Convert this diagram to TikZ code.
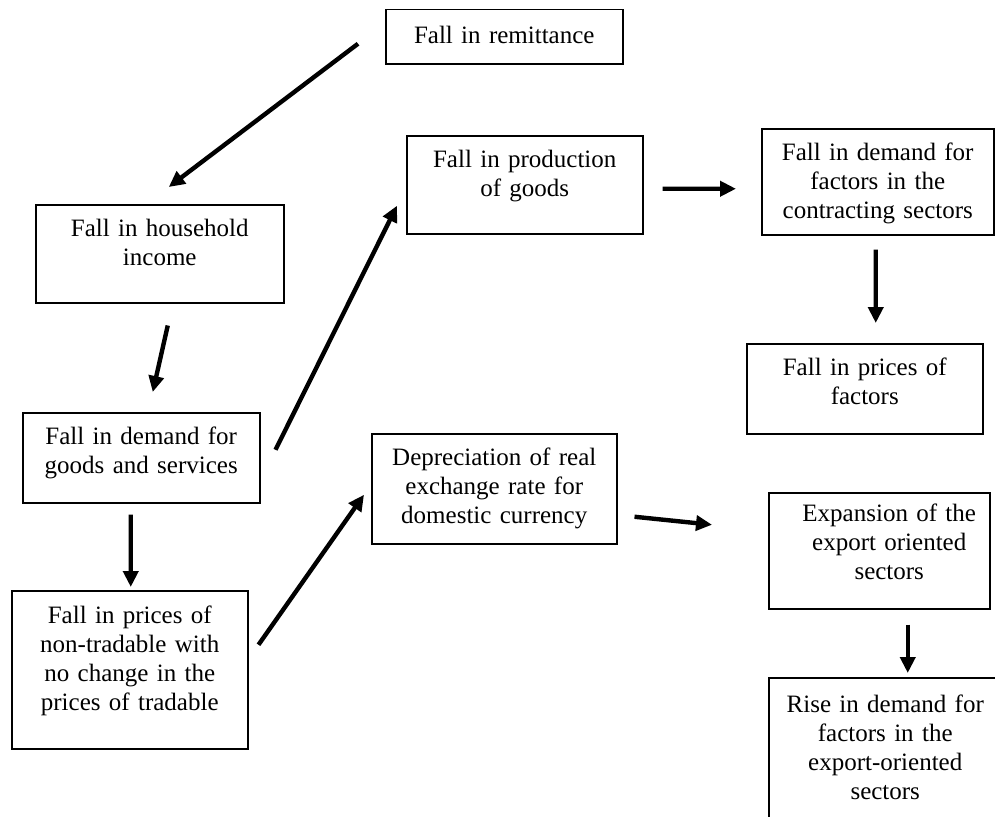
\documentclass[tikz,border=0pt]{standalone}
\usepackage{fontspec}
\setmainfont{Liberation Serif}
\usetikzlibrary{arrows.meta}
\begin{document}
\begin{tikzpicture}[x=1bp, y=-1bp, font=\fontsize{25bp}{29bp}\selectfont, >={Triangle[length=16bp,width=15bp]},
		box/.style={draw, line width=1.5bp, anchor=north west, align=center, inner sep=0pt},
		arr/.style={->, line width=4.4bp}]
			\clip (0,0) rectangle (995,817);
			\node[box, text width=237bp, text height=34bp, text depth=20bp] (rem) at (385,9) {Fall in remittance};
			\node[box, text width=236bp, text height=32bp, text depth=66bp] (prod) at (406,135) {Fall in production\\of goods};
			\node[box, text width=248bp, text height=32bp, text depth=66bp] (house) at (35,204) {Fall in household\\income};
			\node[box, text width=237bp, text height=32bp, text depth=58bp] (dmd) at (22,412) {Fall in demand for\\goods and services};
			\node[box, text width=236bp, text height=33bp, text depth=125bp] (ntr) at (11,590) {Fall in prices of\\non-tradable with\\no change in the\\prices of tradable};
			\node[box, text width=245bp, text height=32bp, text depth=78bp] (dep) at (371,433) {Depreciation of real\\exchange rate for\\domestic currency};
			\node[box, text width=232bp, text height=32bp, text depth=74bp] (ctr) at (761,128) {Fall in demand for\\factors in the\\contracting sectors};
			\node[box, text width=236bp, text height=32bp, text depth=58bp] (fac) at (746,343) {Fall in prices of\\factors};
			\node[box, text width=221bp, text height=29bp, text depth=87bp] (exp) at (768,492) {\hspace*{20bp}Expansion of the\\\hspace*{20bp}export oriented\\\hspace*{20bp}sectors};
			\node[box, text width=233bp, text height=35bp, text depth=128bp] (rise) at (768,677) {Rise in demand for\\factors in the\\export-oriented\\sectors};
			\draw[arr] ([xshift=-27bp,yshift=-7bp]rem.west) -- ([xshift=9bp,yshift=17bp]house.north);
			\draw[arr] ([xshift=8bp,yshift=-22bp]house.south) -- ([xshift=11.5bp,yshift=20bp]dmd.north);
			\draw[arr] ([xshift=15bp,yshift=8bp]dmd.east) -- ([xshift=-9bp,yshift=-21bp]prod.west);
			\draw[arr] ([xshift=-10.5bp,yshift=-11bp]dmd.south) -- ([xshift=1bp,yshift=3bp]ntr.north);
			\draw[arr] ([xshift=10bp,yshift=25bp]ntr.east) -- ([xshift=-7bp,yshift=-6bp]dep.west);
			\draw[arr] ([xshift=19bp,yshift=-4bp]prod.east) -- ([xshift=-25bp,yshift=-7bp]ctr.west);
			\draw[arr] ([xshift=-2bp,yshift=-14bp]ctr.south) -- ([xshift=11bp,yshift=20bp]fac.north);
			\draw[arr] ([xshift=17bp,yshift=-28bp]dep.east) -- ([xshift=-56bp,yshift=26bp]exp.west);
			\draw[arr] ([xshift=28.5bp,yshift=-15bp]exp.south) -- ([xshift=22.5bp,yshift=4bp]rise.north);
		\end{tikzpicture}
\end{document}
